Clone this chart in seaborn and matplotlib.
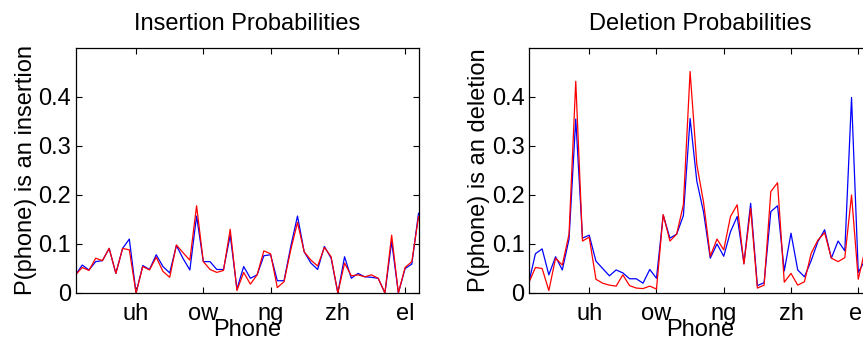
import numpy as np
import pandas as pd
import matplotlib
matplotlib.use("Agg")
import matplotlib.pyplot as plt
import seaborn as sns

# phone labels shown on the x axis (every 10th phone)
tick_pos = [10, 20, 30, 40, 50]
tick_names = ["uh", "ow", "ng", "zh", "el"]

# insertion probabilities per phone (52 phones)
ins_blue = [0.037, 0.057, 0.047, 0.064, 0.066, 0.091, 0.040, 0.091, 0.110, 0.000,
            0.056, 0.048, 0.078, 0.054, 0.041, 0.097, 0.070, 0.047, 0.157, 0.064,
            0.064, 0.048, 0.048, 0.118, 0.008, 0.054, 0.030, 0.037, 0.076, 0.078,
            0.025, 0.025, 0.095, 0.157, 0.084, 0.061, 0.048, 0.095, 0.071, 0.000,
            0.074, 0.030, 0.040, 0.033, 0.032, 0.030, 0.000, 0.105, 0.000, 0.050,
            0.059, 0.163]
ins_red = [0.037, 0.052, 0.046, 0.071, 0.066, 0.091, 0.040, 0.091, 0.088, 0.000,
           0.054, 0.047, 0.073, 0.044, 0.032, 0.098, 0.082, 0.067, 0.178, 0.064,
           0.048, 0.042, 0.046, 0.130, 0.005, 0.042, 0.018, 0.037, 0.086, 0.080,
           0.011, 0.023, 0.088, 0.144, 0.084, 0.067, 0.055, 0.093, 0.074, 0.000,
           0.061, 0.035, 0.037, 0.033, 0.037, 0.030, 0.000, 0.118, 0.000, 0.052,
           0.064, 0.156]

# deletion probabilities per phone (last phone is cut off in the picture)
del_blue = [0.020, 0.080, 0.090, 0.037, 0.074, 0.047, 0.110, 0.355, 0.112, 0.118,
            0.065, 0.050, 0.035, 0.047, 0.041, 0.029, 0.029, 0.020, 0.048, 0.030,
            0.159, 0.112, 0.120, 0.158, 0.356, 0.228, 0.165, 0.071, 0.100, 0.075,
            0.125, 0.156, 0.061, 0.183, 0.015, 0.021, 0.166, 0.178, 0.045, 0.122,
            0.047, 0.033, 0.066, 0.105, 0.129, 0.071, 0.106, 0.086, 0.399, 0.042,
            0.067, 0.085]
del_red = [0.020, 0.052, 0.050, 0.005, 0.071, 0.057, 0.120, 0.432, 0.106, 0.114,
           0.028, 0.020, 0.016, 0.014, 0.037, 0.015, 0.010, 0.009, 0.014, 0.008,
           0.160, 0.106, 0.120, 0.180, 0.452, 0.262, 0.185, 0.075, 0.110, 0.088,
           0.156, 0.180, 0.059, 0.173, 0.010, 0.016, 0.207, 0.225, 0.022, 0.040,
           0.016, 0.023, 0.081, 0.108, 0.123, 0.071, 0.064, 0.072, 0.200, 0.028,
           0.088, 0.095]

phones = np.arange(1, len(ins_blue) + 1)

sns.set_style("ticks")
plt.rcParams["font.family"] = ["Liberation Sans", "DejaVu Sans"]
plt.rcParams["text.color"] = "black"
plt.rcParams["axes.labelcolor"] = "black"
FS = 17

fig = plt.figure(figsize=(8.63, 3.44), dpi=100)
ax1 = fig.add_axes([0.0875, 0.1483, 0.3975, 0.7122])
ax2 = fig.add_axes([0.6126, 0.1483, 0.3975, 0.7122])


def draw(ax, blue, red, title, ylabel):
    df = pd.DataFrame({
        "phone": np.concatenate([phones, phones]),
        "p": np.concatenate([blue, red]),
        "series": ["a"] * len(phones) + ["b"] * len(phones),
    })
    sns.lineplot(data=df, x="phone", y="p", hue="series",
                 palette={"a": "#0000ff", "b": "#ff0000"},
                 linewidth=0.9, legend=False, ax=ax)
    ax.set_xlim(1, 52)
    ax.set_ylim(0, 0.5)
    ax.set_xticks(tick_pos)
    ax.set_xticklabels(tick_names)
    ax.set_yticks([0, 0.1, 0.2, 0.3, 0.4])
    ax.set_yticklabels(["0", "0.1", "0.2", "0.3", "0.4"])
    ax.tick_params(direction="in", length=4, width=0.8, top=True, right=True,
                   labelsize=FS, color="black", labelcolor="black")
    ax.tick_params(axis="x", pad=7)
    ax.tick_params(axis="y", pad=3)
    for s in ax.spines.values():
        s.set_visible(True)
        s.set_color("black")
        s.set_linewidth(0.9)
    ax.set_title(title, fontsize=FS, pad=13, color="black")
    ax.set_xlabel("Phone", fontsize=FS, labelpad=-4, color="black")
    ax.set_ylabel(ylabel, fontsize=FS, labelpad=1, color="black")


draw(ax1, ins_blue, ins_red, "Insertion Probabilities", "P(phone) is an insertion")
draw(ax2, del_blue, del_red, "Deletion Probabilities", "P(phone) is an deletion")

fig.savefig("out.png", dpi=100)
